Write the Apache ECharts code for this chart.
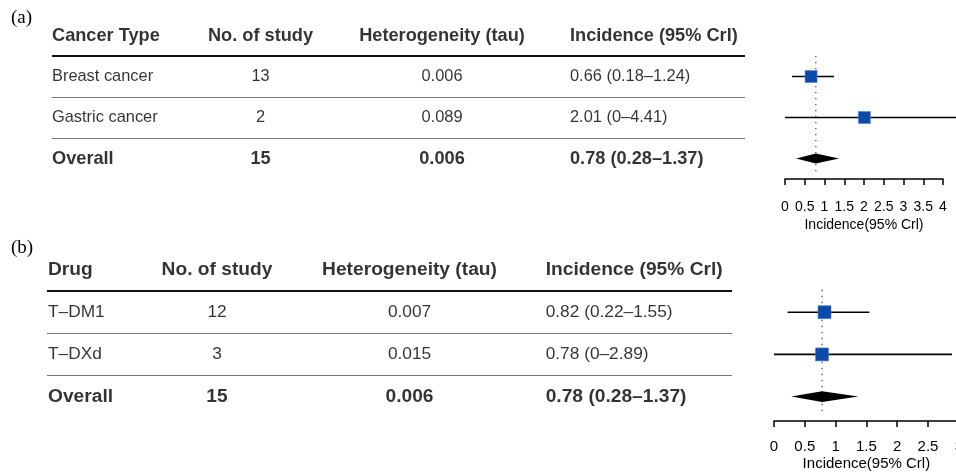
<!DOCTYPE html>
<html><head><meta charset="utf-8">
<script src="https://cdn.jsdelivr.net/npm/echarts@6/dist/echarts.min.js"></script>
<style>html,body{margin:0;padding:0;background:#fff}#c{width:956px;height:472px}</style>
</head><body><div id="c"></div>
<script>
// ---------- Panel (a): by cancer type ----------
const headersA = ['Cancer Type', 'No. of study', 'Heterogeneity (tau)', 'Incidence (95% Crl)'];
const groupsA = ['Breast cancer', 'Gastric cancer', 'Overall'];
const studiesA = [13, 2, 15];
const tauA = ['0.006', '0.089', '0.006'];
const estA = [0.66, 2.01, 0.78];
const lowA = [0.18, 0, 0.28];
const highA = [1.24, 4.41, 1.37];
const ticksA = [0, 0.5, 1, 1.5, 2, 2.5, 3, 3.5, 4];

// ---------- Panel (b): by drug ----------
const headersB = ['Drug', 'No. of study', 'Heterogeneity (tau)', 'Incidence (95% Crl)'];
const groupsB = ['T\u2013DM1', 'T\u2013DXd', 'Overall'];
const studiesB = [12, 3, 15];
const tauB = ['0.007', '0.015', '0.006'];
const estB = [0.82, 0.78, 0.78];
const lowB = [0.22, 0, 0.28];
const highB = [1.55, 2.89, 1.37];
const ticksB = [0, 0.5, 1, 1.5, 2, 2.5, 3];

const axisTitle = 'Incidence(95% Crl)';
const panelTags = ['(a)', '(b)'];

// ---------- layout (positions / sizes / styles) ----------
const SANS = 'Liberation Sans, Arial, Helvetica, sans-serif';
const L = [
  {top: 15, rowH: 41, ymax: 3.5, tl: 52, tr: 745, cols: [52, 260.5, 442, 570],
   fl: 785, fw: 158, head: 18.2, body: 16.4, axisFont: 14, labelMargin: 21, nameGap: 39,
   sq: 12, dh: 5, refTop: 0.5, refEnd: 3.37, tagTop: 8.5},
  {top: 248.9, rowH: 42.2, ymax: 3.58, tl: 47, tr: 732, cols: [48, 217, 409.5, 545.7],
   fl: 774, fw: 184.8, head: 19.2, body: 17.3, axisFont: 15, labelMargin: 18.5, nameGap: 35,
   sq: 13, dh: 5.3, refTop: 0.47, refEnd: 3.4, tagTop: 238.5}
];
const colAlign = ['left', 'center', 'center', 'left'];
const SQ_COLOR = '#0a4aab';

const fmt = v => String(v);
const panels = [
  {headers: headersA, groups: groupsA, studies: studiesA, tau: tauA, est: estA, low: lowA, high: highA, ticks: ticksA},
  {headers: headersB, groups: groupsB, studies: studiesB, tau: tauB, est: estB, low: lowB, high: highB, ticks: ticksB}
];

const grid = [], xAxis = [], yAxis = [], series = [], title = [];

panels.forEach((P, pi) => {
  const lay = L[pi];
  const h = (lay.ymax + 0.5) * lay.rowH;
  const tg = pi * 2, fg = pi * 2 + 1;
  grid.push({left: lay.tl, top: lay.top, width: lay.tr - lay.tl, height: h, containLabel: false, outerBoundsMode: 'none'});
  grid.push({left: lay.fl, top: lay.top, width: lay.fw, height: h, containLabel: false, outerBoundsMode: 'none'});

  xAxis.push({gridIndex: tg, type: 'value', min: lay.tl, max: lay.tr, show: false});
  xAxis.push({
    gridIndex: fg, type: 'value', min: P.ticks[0], max: P.ticks[P.ticks.length - 1],
    interval: P.ticks[1] - P.ticks[0], position: 'bottom',
    axisLine: {show: true, onZero: false, lineStyle: {color: '#000', width: 1.5}},
    axisTick: {show: true, length: 6, lineStyle: {color: '#000', width: 1.5}},
    axisLabel: {show: true, margin: lay.labelMargin, fontSize: lay.axisFont, fontFamily: SANS, color: '#000',
      formatter: v => fmt(v), hideOverlap: false, showMinLabel: true, showMaxLabel: true},
    splitLine: {show: false},
    name: axisTitle, nameLocation: 'middle', nameGap: lay.nameGap,
    nameTextStyle: {fontSize: lay.axisFont, fontFamily: SANS, color: '#000'}
  });
  yAxis.push({gridIndex: tg, type: 'value', min: -0.5, max: lay.ymax, inverse: true, show: false});
  yAxis.push({gridIndex: fg, type: 'value', min: -0.5, max: lay.ymax, inverse: true, show: false});

  // table text
  const rows = [P.headers];
  P.groups.forEach((g, i) => rows.push([g, fmt(P.studies[i]), P.tau[i],
    fmt(P.est[i]) + ' (' + fmt(P.low[i]) + '\u2013' + fmt(P.high[i]) + ')']));
  for (let c = 0; c < 4; c++) {
    const data = rows.map((row, r) => {
      const bold = (r === 0 || r === rows.length - 1);
      return {value: [lay.cols[c], r, row[c]],
        label: {fontWeight: bold ? 'bold' : 'normal', fontSize: bold ? lay.head : lay.body}};
    });
    series.push({
      type: 'scatter', xAxisIndex: tg, yAxisIndex: tg, symbolSize: 0, silent: true,
      itemStyle: {color: 'rgba(0,0,0,0)'},
      label: {show: true, position: 'inside', align: colAlign[c], verticalAlign: 'middle',
        color: '#000', textBorderWidth: 0, fontFamily: SANS, formatter: p => p.value[2]},
      data: data
    });
  }
  // table rules
  series.push({
    type: 'line', xAxisIndex: tg, yAxisIndex: tg, data: [], silent: true,
    markLine: {symbol: 'none', silent: true, label: {show: false}, animation: false,
      data: [
        {yAxis: 0.5, lineStyle: {color: '#111', width: 2.2, type: 'solid'}},
        {yAxis: 1.5, lineStyle: {color: '#777', width: 1.2, type: 'solid'}},
        {yAxis: 2.5, lineStyle: {color: '#777', width: 1.2, type: 'solid'}}
      ]}
  });

  // reference dotted line at overall estimate
  const ov = P.est[P.est.length - 1];
  series.push({
    type: 'line', xAxisIndex: fg, yAxisIndex: fg, silent: true, symbol: 'none',
    lineStyle: {color: '#555', width: 1.3, type: [1.3, 4.7]},
    data: [[ov, lay.refTop], [ov, lay.refEnd]], z: 1
  });

  // forest marks
  const fdata = P.est.map((e, i) => [e, P.low[i], P.high[i], i + 1, i === P.est.length - 1 ? 1 : 0]);
  series.push({
    type: 'custom', xAxisIndex: fg, yAxisIndex: fg, silent: true, clip: false, z: 3,
    data: fdata,
    renderItem: (params, api) => {
      const e = api.value(0), lo = api.value(1), hi = api.value(2), r = api.value(3), isOv = api.value(4);
      const pE = api.coord([e, r]), pL = api.coord([lo, r]), pH = api.coord([hi, r]);
      const y = pE[1];
      if (isOv) {
        return {type: 'polygon', shape: {points: [[pL[0], y], [pE[0], y - lay.dh], [pH[0], y], [pE[0], y + lay.dh]]},
          style: {fill: '#000'}};
      }
      const s = lay.sq;
      return {type: 'group', children: [
        {type: 'line', shape: {x1: pL[0], y1: y, x2: pH[0], y2: y}, style: {stroke: '#000', lineWidth: 1.6}},
        {type: 'rect', shape: {x: pE[0] - s / 2, y: y - s / 2, width: s, height: s},
          style: {fill: SQ_COLOR, stroke: '#5a82c8', lineWidth: 0.6}}
      ]};
    }
  });

  title.push({text: panelTags[pi], left: 11, top: lay.tagTop, padding: 0,
    textStyle: {fontFamily: 'Liberation Serif, DejaVu Serif, serif', fontWeight: 'normal', fontSize: 19, color: '#000'}});
});

const chart = echarts.init(document.getElementById('c'), null, {renderer: 'canvas'});
chart.setOption({animation: false, backgroundColor: '#fff', title, grid, xAxis, yAxis, series});
</script>
</body></html>
